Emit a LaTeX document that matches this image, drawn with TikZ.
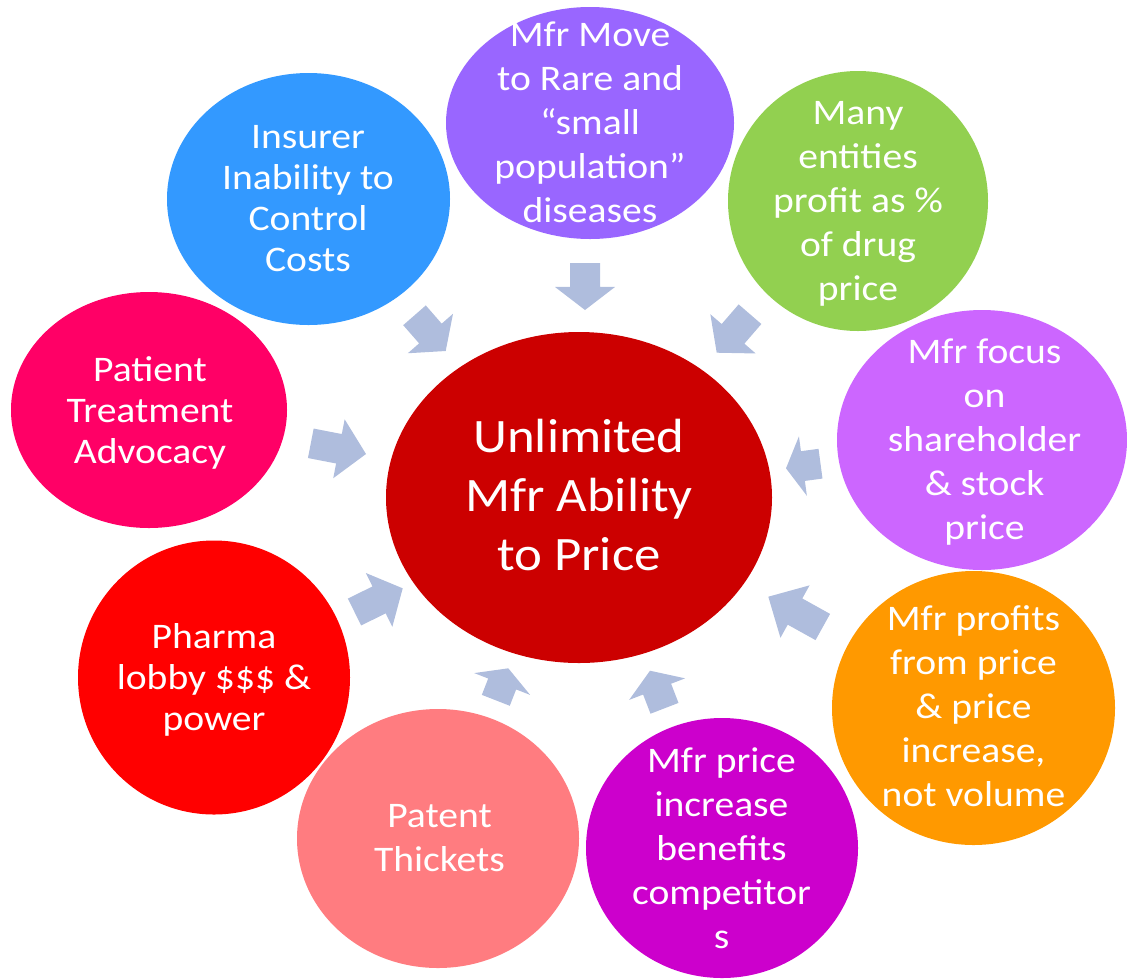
\documentclass[tikz,border=0pt]{standalone}
\usepackage{fontspec}
\setmainfont{Carlito}[FakeStretch=1.1]
\usetikzlibrary{shapes.geometric,calc}

\definecolor{cTop}{RGB}{153,102,255}
\definecolor{cGreen}{RGB}{146,208,80}
\definecolor{cLPurple}{RGB}{204,102,255}
\definecolor{cOrange}{RGB}{255,153,0}
\definecolor{cMagenta}{RGB}{204,0,204}
\definecolor{cPink}{RGB}{255,124,128}
\definecolor{cRed}{RGB}{255,0,0}
\definecolor{cCrimson}{RGB}{255,0,102}
\definecolor{cBlue}{RGB}{51,153,255}
\definecolor{cCenter}{RGB}{204,0,0}
\definecolor{arrowc}{RGB}{175,189,221}

\newcommand{\blockarrow}[3]{%
  \coordinate (#1-b) at ($(#2)!0.51!(#3)$);
  \fill[arrowc] ($(#2)!11.25pt!90:(#3)$) -- ($(#1-b)!11.25pt!90:(#3)$) -- ($(#1-b)!22.5pt!90:(#3)$) -- (#3) -- ($(#1-b)!22.5pt!-90:(#3)$) -- ($(#1-b)!11.25pt!-90:(#3)$) -- ($(#2)!11.25pt!-90:(#3)$) -- cycle;
}

\begin{document}
\begin{tikzpicture}[x=0.75pt,y=-0.75pt,
  bub/.style={ellipse,inner sep=0pt,outer sep=0pt,draw=none},
  lbl/.style={text=white,align=center,inner sep=0pt,font=\fontsize{27}{33}\selectfont},
  lbltight/.style={text=white,align=center,inner sep=0pt,font=\fontsize{27}{30.75}\selectfont},
  lblbig/.style={text=white,align=center,inner sep=0pt,font=\fontsize{36}{44.25}\selectfont}]
\useasboundingbox (0,0) rectangle (1127,979);

% bubbles
\node[bub,fill=cTop,minimum width=216pt,minimum height=174pt] (top) at (590,123) {};
\node[bub,fill=cGreen,minimum width=195pt,minimum height=195pt] (green) at (858,201) {};
\node[bub,fill=cLPurple,minimum width=217.5pt,minimum height=195pt] (lpur) at (982,440) {};
\node[bub,fill=cOrange,minimum width=212.25pt,minimum height=205.5pt] (orange) at (973.5,708) {};
\node[bub,fill=cMagenta,minimum width=204pt,minimum height=195pt] (mag) at (722,848) {};
\node[bub,fill=cPink,minimum width=211.5pt,minimum height=194.25pt] (pink) at (438,838.5) {};
\node[bub,fill=cRed,minimum width=204pt,minimum height=205.5pt] (red) at (214,677.5) {};
\node[bub,fill=cCrimson,minimum width=207pt,minimum height=177pt] (crim) at (149,410) {};
\node[bub,fill=cBlue,minimum width=212.25pt,minimum height=189pt] (blue) at (308.5,199) {};
\node[bub,fill=cCenter,minimum width=289.5pt,minimum height=248.25pt] (center) at (579,497.5) {};

% texts
\node[lbl] (ttop) at (590,122) {Mfr Move\\to Rare and\\“small\\population”\\diseases};
\node[lbl] (tgreen) at (858,204) {Many\\entities\\profit as \%\\of drug\\price};
\node[lbl] (tlpur) at (984.5,442.5) {Mfr focus\\on\\shareholder\\\& stock\\price};
\node[lbl] (torange) at (973.5,706) {Mfr profits\\from price\\\& price\\increase,\\not volume};
\node[lbl] (tmag) at (721.5,848) {Mfr price\\increase\\benefits\\competitor\\s};
\node[lbl] (tpink) at (439.5,838.5) {Patent\\Thickets};
\node[lbltight] (tred) at (214,679.5) {Pharma\\lobby \$\$\$ \&\\power};
\node[lbltight] (tcrim) at (150,413) {Patient\\Treatment\\Advocacy};
\node[lbltight] (tblue) at (308,199) {Insurer\\Inability to\\Control\\Costs};
\node[lblbig] (tcenter) at (579,494.5) {Unlimited\\Mfr Ability\\to Price};

% arrow end points
\coordinate (a1t) at (585,263);     \coordinate (a1h) at (585,310);
\coordinate (a2t) at (750,314.2);   \coordinate (a2h) at (716.7,352.7);
\coordinate (a3t) at (820.5,463.7); \coordinate (a3h) at (786,468.3);
\coordinate (a4t) at (822.8,627);   \coordinate (a4h) at (768.3,596.7);
\coordinate (a5t) at (664.5,708.3); \coordinate (a5h) at (650,670.7);
\coordinate (a6t) at (495.8,700.3); \coordinate (a6h) at (508.3,668.3);
\coordinate (a7t) at (354.5,612);   \coordinate (a7h) at (402.7,588.3);
\coordinate (a8t) at (310.8,443.3); \coordinate (a8h) at (366,454);
\coordinate (a9t) at (414.5,315.3); \coordinate (a9h) at (445.7,351);

\blockarrow{a1}{a1t}{a1h}
\blockarrow{a2}{a2t}{a2h}
\blockarrow{a3}{a3t}{a3h}
\blockarrow{a4}{a4t}{a4h}
\blockarrow{a5}{a5t}{a5h}
\blockarrow{a6}{a6t}{a6h}
\blockarrow{a7}{a7t}{a7h}
\blockarrow{a8}{a8t}{a8h}
\blockarrow{a9}{a9t}{a9h}
\end{tikzpicture}
\end{document}
